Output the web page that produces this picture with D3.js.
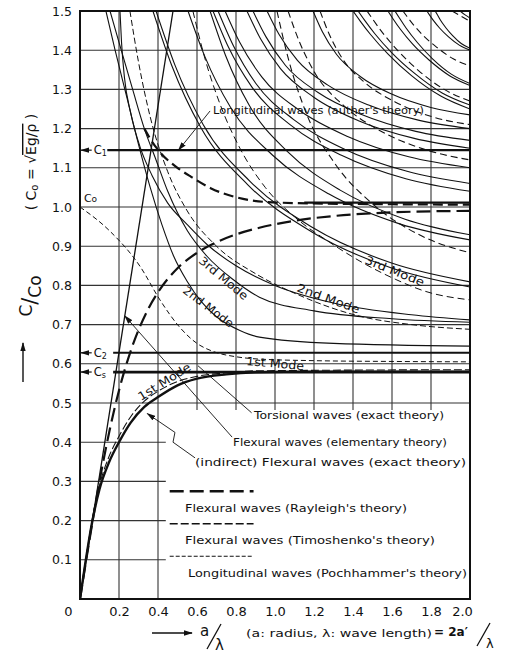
<!DOCTYPE html>
<html>
<head>
<meta charset="utf-8">
<script src="https://d3js.org/d3.v7.min.js"></script>
<style>
  body { margin: 0; background: #fff; }
  text { font-family: "DejaVu Sans", sans-serif; fill: #111; }
</style>
</head>
<body>
<svg id="chart" width="506" height="653"></svg>
<script>
// ---- data (x = a/lambda, y = c/c0) ----
const xTicks = [0, 0.2, 0.4, 0.6, 0.8, 1.0, 1.2, 1.4, 1.6, 1.8, 2.0];
const xTickLabels = ["0", "0.2", "0.4", "0.6", "0.8", "1.0", "1.2", "1.4", "1.6", "1.8", "2.0"];
const yTicks = [0.1, 0.2, 0.3, 0.4, 0.5, 0.6, 0.7, 0.8, 0.9, 1.0, 1.1, 1.2, 1.3, 1.4, 1.5];
const yTickLabels = ["0.1", "0.2", "0.3", "0.4", "0.5", "0.6", "0.7", "0.8", "0.9", "1.0", "1.1", "1.2", "1.3", "1.4", "1.5"];

const levelC1 = 1.145;
const levelC2 = 0.628;
const levelCs = 0.579;

const elementary = [[0, 0], [0.477, 1.5]];
const flexExact1 = [[0,0],[0.03,0.1],[0.06,0.19],[0.1,0.28],[0.15,0.35],[0.2,0.4],[0.26,0.45],[0.33,0.49],[0.4,0.515],[0.5,0.545],[0.6,0.562],[0.75,0.573],[0.9,0.578],[1.2,0.58],[2.0,0.58]];
const timoshenko1 = [[0,0],[0.03,0.1],[0.06,0.195],[0.1,0.29],[0.15,0.365],[0.2,0.415],[0.26,0.465],[0.33,0.505],[0.4,0.53],[0.5,0.555],[0.6,0.568],[0.75,0.577],[0.9,0.582],[2.0,0.585]];
const rayleigh = [[0,0],[0.05,0.155],[0.1,0.3],[0.15,0.426],[0.2,0.532],[0.27,0.647],[0.35,0.74],[0.41,0.79],[0.5,0.844],[0.6,0.883],[0.7,0.91],[0.8,0.93],[0.92,0.947],[1.1,0.965],[1.3,0.977],[1.5,0.984],[1.7,0.988],[2.0,0.99]];
const poch1 = [[0,1.0],[0.15,0.94],[0.31,0.847],[0.41,0.763],[0.51,0.694],[0.6,0.652],[0.68,0.632],[0.8,0.618],[0.92,0.612],[1.2,0.608],[1.6,0.606],[2.0,0.605]];
const poch2 = [[0.256,1.5],[0.3,1.37],[0.36,1.23],[0.45,1.09],[0.55,0.99],[0.7,0.9],[0.9,0.83],[1.11,0.778],[1.43,0.722],[1.7,0.7],[2.0,0.688]];
const poch3 = [[0.579,1.5],[0.64,1.38],[0.72,1.26],[0.82,1.15],[0.95,1.05],[1.1,0.975],[1.28,0.91],[1.46,0.855],[1.62,0.815],[1.77,0.785],[2.0,0.763]];
const authorLong = [[0.33,1.2],[0.365,1.17],[0.415,1.137],[0.5,1.1],[0.57,1.077],[0.67,1.048],[0.8,1.025],[0.95,1.013],[1.2,1.009],[1.6,1.007],[2.0,1.006]];
const coLine = [[1.15,1.011],[2.0,1.011]];

const flexMode2 = [[0.133,1.5],[0.18,1.4],[0.24,1.28],[0.3,1.16],[0.36,1.05],[0.42,0.955],[0.48,0.875],[0.55,0.81],[0.62,0.76],[0.7,0.72],[0.82,0.685],[0.92,0.668],[1.3,0.652],[2.0,0.645]];
const flexMode3 = [[0.154,1.5],[0.2,1.42],[0.27,1.3],[0.33,1.2],[0.39,1.12],[0.45,1.04],[0.55,0.94],[0.65,0.875],[0.785,0.815],[0.92,0.77],[1.2,0.735],[1.6,0.715],[2.0,0.706]];

const upperSolid = [
  [[0.205,1.5],[0.213,1.42],[0.228,1.33],[0.26,1.24],[0.31,1.15],[0.37,1.08],[0.45,1.01],[0.55,0.955],[0.65,0.905],[0.8,0.85],[1.0,0.8],[1.3,0.755],[1.7,0.725],[2.0,0.712]],
  [[0.374,1.5],[0.472,1.359],[0.618,1.204],[0.862,1.056],[1.187,0.937],[1.594,0.845],[2.0,0.796]],
  [[0.39,1.5],[0.487,1.362],[0.632,1.21],[0.873,1.065],[1.195,0.947],[1.598,0.857],[2.0,0.809]],
  [[0.554,1.5],[0.641,1.383],[0.771,1.255],[0.988,1.132],[1.277,1.033],[1.639,0.957],[2.0,0.916]],
  [[0.667,1.5],[0.747,1.386],[0.867,1.26],[1.067,1.14],[1.334,1.043],[1.667,0.969],[2.0,0.929]],
  [[0.682,1.5],[0.761,1.408],[0.88,1.307],[1.077,1.21],[1.341,1.132],[1.671,1.072],[2.0,1.04]],
  [[0.708,1.5],[0.786,1.412],[0.902,1.315],[1.096,1.223],[1.354,1.148],[1.677,1.091],[2.0,1.06]],
  [[0.744,1.5],[0.819,1.42],[0.932,1.332],[1.121,1.248],[1.372,1.18],[1.686,1.128],[2.0,1.1]],
  [[0.856,1.5],[0.925,1.43],[1.028,1.353],[1.199,1.28],[1.428,1.22],[1.714,1.175],[2.0,1.15]],
  [[0.887,1.5],[0.954,1.434],[1.054,1.361],[1.221,1.292],[1.444,1.236],[1.722,1.193],[2.0,1.17]],
  [[0.959,1.5],[1.021,1.44],[1.115,1.374],[1.271,1.311],[1.48,1.26],[1.74,1.221],[2.0,1.2]],
  [[1.195,1.5],[1.243,1.447],[1.316,1.389],[1.437,1.333],[1.598,1.288],[1.799,1.254],[2.0,1.235]],
  [[1.4,1.5],[1.436,1.475],[1.49,1.44],[1.58,1.39],[1.7,1.335],[1.85,1.283],[2.0,1.25]],
  [[1.426,1.5],[1.46,1.476],[1.512,1.442],[1.598,1.394],[1.713,1.342],[1.857,1.291],[2.0,1.26]],
  [[1.579,1.5],[1.604,1.481],[1.642,1.454],[1.705,1.416],[1.79,1.375],[1.895,1.335],[2.0,1.31]],
  [[1.615,1.5],[1.638,1.482],[1.673,1.456],[1.731,1.419],[1.808,1.378],[1.904,1.339],[2.0,1.315]],
  [[1.779,1.5],[1.792,1.49],[1.812,1.476],[1.845,1.456],[1.89,1.434],[1.945,1.413],[2.0,1.4]],
  [[1.821,1.5],[1.832,1.491],[1.848,1.477],[1.875,1.458],[1.911,1.437],[1.955,1.417],[2.0,1.405]],
  [[1.949,1.5],[1.975,1.49],[2.0,1.482]]
];
const upperDashed = [
  [[1.01,1.5],[1.069,1.377],[1.159,1.241],[1.307,1.111],[1.505,1.006],[1.753,0.926],[2.0,0.883]],
  [[1.067,1.5],[1.123,1.424],[1.207,1.34],[1.347,1.261],[1.534,1.196],[1.767,1.147],[2.0,1.12]],
  [[1.231,1.5],[1.277,1.442],[1.346,1.378],[1.462,1.317],[1.616,1.268],[1.808,1.23],[2.0,1.21]],
  [[1.472,1.5],[1.504,1.477],[1.551,1.445],[1.63,1.399],[1.736,1.348],[1.868,1.3],[2.0,1.27]],
  [[1.656,1.5],[1.677,1.486],[1.708,1.466],[1.759,1.438],[1.828,1.408],[1.914,1.378],[2.0,1.36]],
  [[1.908,1.5],[1.95,1.488],[2.0,1.474]]
];

// leader lines (data coords)
const leaderAuthor = [[0.667,1.245],[0.505,1.145]];
const leaderTorsional = [[0.88,0.475],[0.605,0.595]];
const leaderElementary = [[0.78,0.413],[0.23,0.722]];
const leaderIndirect = [[0.59,0.36],[0.477,0.4],[0.487,0.425],[0.345,0.473]];

// ---- drawing ----
const svg = d3.select("#chart");
svg.append("rect").attr("width", 506).attr("height", 653).attr("fill", "#fff");

const x = d3.scaleLinear().domain([0, 2]).range([80, 470]);
const y = d3.scaleLinear().domain([0, 1.5]).range([599, 11]);

const defs = svg.append("defs");
defs.append("clipPath").attr("id", "plot")
  .append("rect").attr("x", x(0)).attr("y", y(1.5))
  .attr("width", x(2) - x(0)).attr("height", y(0) - y(1.5));
defs.append("marker").attr("id", "arr").attr("viewBox", "0 0 10 6")
  .attr("refX", 9).attr("refY", 3).attr("markerWidth", 9).attr("markerHeight", 6)
  .attr("markerUnits", "userSpaceOnUse").attr("orient", "auto")
  .append("path").attr("d", "M0,0L10,3L0,6z").attr("fill", "#111");

// grid
const grid = svg.append("g").attr("stroke", "#333").attr("stroke-width", 1.1);
[0.2, 0.4, 0.6, 0.8, 1.0, 1.2, 1.4, 1.6, 1.8].forEach(v => {
  grid.append("line").attr("x1", x(v)).attr("x2", x(v))
    .attr("y1", y(1.5)).attr("y2", v <= 0.4 ? y(0) : y(0.5) + 7);
});
[0.1, 0.2, 0.3, 0.4, 0.5, 0.6, 0.7, 0.8, 0.9, 1.0, 1.1, 1.2, 1.3, 1.4].forEach(v => {
  grid.append("line").attr("y1", y(v)).attr("y2", y(v))
    .attr("x1", x(0)).attr("x2", v < 0.5 ? x(0.44) : x(2));
});

// frame
svg.append("rect").attr("x", x(0)).attr("y", y(1.5))
  .attr("width", x(2) - x(0)).attr("height", y(0) - y(1.5))
  .attr("fill", "none").attr("stroke", "#111").attr("stroke-width", 2);

// axes labels via d3 axes
const xAxis = svg.append("g").attr("transform", `translate(0,${y(0) + 5})`)
  .call(d3.axisBottom(x).tickValues(xTicks).tickSize(0)
    .tickFormat((d, i) => xTickLabels[i]));
xAxis.select(".domain").remove();
xAxis.selectAll("text").attr("font-size", 13).attr("font-family", "DejaVu Sans")
  .attr("dx", (d, i) => i === 0 ? -12 : (i === 10 ? -8 : 0));

const yAxis = svg.append("g").attr("transform", `translate(${x(0) - 5},0)`)
  .call(d3.axisLeft(y).tickValues(yTicks).tickSize(0)
    .tickFormat((d, i) => yTickLabels[i]));
yAxis.select(".domain").remove();
yAxis.selectAll("text").attr("font-size", 12.5).attr("font-family", "DejaVu Sans");

// curves
const plot = svg.append("g").attr("clip-path", "url(#plot)").attr("fill", "none").attr("stroke", "#111");
const smooth = d3.line().x(d => x(d[0])).y(d => y(d[1])).curve(d3.curveMonotoneX);
const straight = d3.line().x(d => x(d[0])).y(d => y(d[1]));

function draw(data, width, dash, gen) {
  plot.append("path").attr("d", (gen || smooth)(data))
    .attr("stroke-width", width).attr("stroke-dasharray", dash || null);
}

upperSolid.forEach(c => draw(c, 1.1));
upperDashed.forEach(c => draw(c, 1.1, "7,4"));
draw(flexMode2, 1.1);
draw(flexMode3, 1.1);
draw(poch1, 1, "5,3");
draw(poch2, 1, "6,3");
draw(poch3, 1, "7,4");
draw(elementary, 1.3, null, straight);
draw(timoshenko1, 1.1, "8,3");
draw(rayleigh, 2.2, "14,6");
draw(flexExact1, 2.4);
draw(authorLong, 2.2, "10,5");
draw(coLine, 2.2);

// horizontal reference speeds
const levels = [
  { v: levelC1, label: "C", sub: "1", w: 2.2, x0: 0.14 },
  { v: levelC2, label: "C", sub: "2", w: 2.0, x0: 0.17 },
  { v: levelCs, label: "C", sub: "s", w: 2.8, x0: 0.17 }
];
levels.forEach(l => {
  svg.append("line").attr("x1", x(l.x0)).attr("x2", x(2))
    .attr("y1", y(l.v)).attr("y2", y(l.v)).attr("stroke", "#111").attr("stroke-width", l.w);
  svg.append("line").attr("x1", x(0.06)).attr("x2", x(0.005))
    .attr("y1", y(l.v)).attr("y2", y(l.v)).attr("stroke", "#111").attr("stroke-width", 1.2)
    .attr("marker-end", "url(#arr)");
  const t = svg.append("text").attr("x", x(0.07)).attr("y", y(l.v) + 4).attr("font-size", 11.5);
  t.append("tspan").text(l.label);
  t.append("tspan").attr("font-size", 8).attr("dy", 2).text(l.sub);
});
const co = svg.append("text").attr("x", x(0.02)).attr("y", y(1.0) - 5).attr("font-size", 11);
co.append("tspan").text("C");
co.append("tspan").attr("font-size", 9).text("o");

// leaders
[[leaderAuthor, true], [leaderTorsional, false], [leaderElementary, true], [leaderIndirect, true]].forEach(([d, arrow]) => {
  svg.append("path").attr("d", straight(d)).attr("fill", "none").attr("stroke", "#111")
    .attr("stroke-width", 0.9).attr("marker-end", arrow ? "url(#arr)" : null);
});

// mode labels
function label(txt, px, py, ang, len, size) {
  svg.append("text").attr("transform", `translate(${px},${py}) rotate(${ang})`)
    .attr("font-size", size || 11.5).attr("textLength", len).attr("lengthAdjust", "spacingAndGlyphs")
    .text(txt);
}
label("3rd Mode", 198, 262, 40, 60);
label("2nd Mode", 182, 292, 37, 60);
label("1st Mode", 141, 401, -32, 60);
label("1st Mode", 246, 365, 5, 58);
label("2nd Mode", 296, 291, 20, 66);
label("3rd Mode", 364, 263, 22, 63);

function note(txt, px, py, len, size) {
  svg.append("text").attr("x", px).attr("y", py).attr("font-size", size || 11)
    .attr("textLength", len).attr("lengthAdjust", "spacingAndGlyphs").text(txt);
}
note("Longitudinal waves (auther's theory)", 213, 114, 211, 10.5);
note("Torsional waves (exact theory)", 254, 419, 190);
note("Flexural waves (elementary theory)", 233, 446, 214);
note("(indirect) Flexural waves (exact theory)", 195, 466, 271);
note("Flexural waves (Rayleigh's theory)", 185, 512, 222);
note("Flexural waves (Timoshenko's theory)", 185, 544, 250);
note("Longitudinal waves (Pochhammer's theory)", 188, 577, 279);

// legend samples
const legendRows = [
  { v: 0.275, w: 2.4, dash: "14,6" },
  { v: 0.192, w: 1.3, dash: "8,3" },
  { v: 0.109, w: 1.1, dash: "4,2" }
];
legendRows.forEach(r => {
  svg.append("line").attr("x1", x(0.46)).attr("x2", x(0.89))
    .attr("y1", y(r.v)).attr("y2", y(r.v)).attr("stroke", "#111")
    .attr("stroke-width", r.w).attr("stroke-dasharray", r.dash);
});

// y-axis title
const yt = svg.append("text").attr("transform", "translate(36,162) rotate(-90)")
  .attr("text-anchor", "middle").attr("font-size", 14);
yt.append("tspan").text("( C");
yt.append("tspan").attr("font-size", 10).attr("dy", 2).text("o");
yt.append("tspan").attr("dy", -2).text(" = √");
yt.append("tspan").attr("text-decoration", "overline").text("Eg/ρ");
yt.append("tspan").text("  )");

const yf = svg.append("text").attr("transform", "translate(37,296) rotate(-90)")
  .attr("text-anchor", "middle").attr("font-size", 17);
yf.append("tspan").attr("dy", -5).text("C");
yf.append("tspan").attr("dy", 5).attr("font-size", 21).text("/");
yf.append("tspan").attr("dy", 4).text("Co");

svg.append("line").attr("x1", 23).attr("x2", 23).attr("y1", 382).attr("y2", 343)
  .attr("stroke", "#111").attr("stroke-width", 1.4).attr("marker-end", "url(#arr)");

// x-axis title
svg.append("line").attr("x1", 152).attr("x2", 192).attr("y1", 633).attr("y2", 633)
  .attr("stroke", "#111").attr("stroke-width", 1.4).attr("marker-end", "url(#arr)");
svg.append("text").attr("x", 200).attr("y", 636).attr("font-size", 15).text("a");
svg.append("line").attr("x1", 207).attr("x2", 221).attr("y1", 649).attr("y2", 624)
  .attr("stroke", "#111").attr("stroke-width", 1.3);
svg.append("text").attr("x", 215).attr("y", 650).attr("font-size", 15).text("λ");
note("(a: radius,  λ: wave length)", 246, 637, 186, 11);
svg.append("text").attr("x", 434).attr("y", 636).attr("font-size", 12).attr("font-weight", "bold").text("= 2a′");
svg.append("line").attr("x1", 477).attr("x2", 490).attr("y1", 646).attr("y2", 623)
  .attr("stroke", "#111").attr("stroke-width", 1.3);
svg.append("text").attr("x", 486).attr("y", 648).attr("font-size", 13).text("λ");
</script>
</body>
</html>
